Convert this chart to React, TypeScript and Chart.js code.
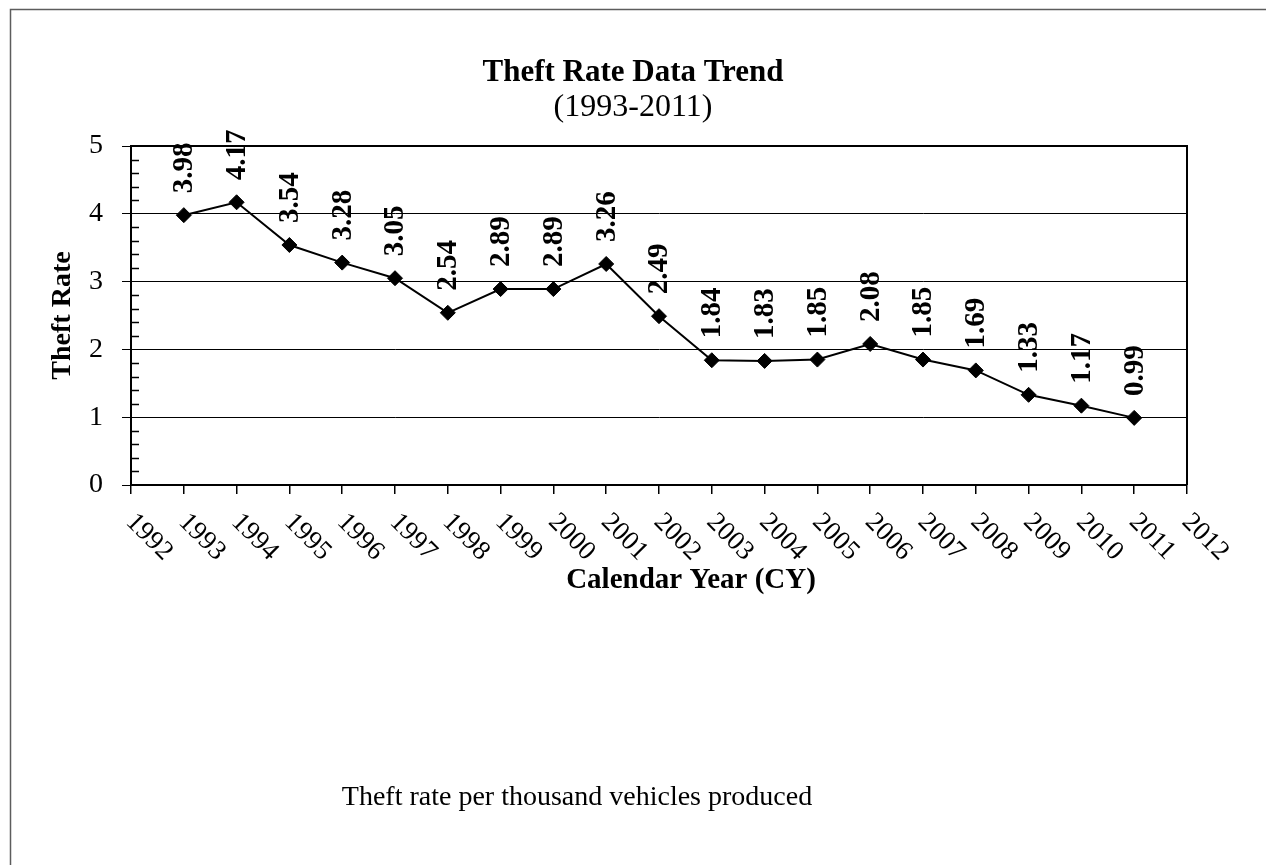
import React, { useEffect, useRef } from "react";
import { Chart, registerables } from "chart.js";

Chart.register(...registerables);

const years = [1993, 1994, 1995, 1996, 1997, 1998, 1999, 2000, 2001, 2002, 2003, 2004, 2005, 2006, 2007, 2008, 2009, 2010, 2011];
const theftRates = [3.98, 4.17, 3.54, 3.28, 3.05, 2.54, 2.89, 2.89, 3.26, 2.49, 1.84, 1.83, 1.85, 2.08, 1.85, 1.69, 1.33, 1.17, 0.99];
const xTickYears = [1992, 1993, 1994, 1995, 1996, 1997, 1998, 1999, 2000, 2001, 2002, 2003, 2004, 2005, 2006, 2007, 2008, 2009, 2010, 2011, 2012];
const yMin = 0;
const yMax = 5;
const titleText = "Theft Rate Data Trend";
const subtitleText = "(1993-2011)";
const xAxisTitle = "Calendar Year (CY)";
const yAxisTitle = "Theft Rate";
const footnote = "Theft rate per thousand vehicles produced";

const SERIF = "'Liberation Serif', 'Times New Roman', serif";

const decorPlugin = {
  id: "decor",
  beforeDraw(chart: any) {
    const ctx = chart.ctx;
    ctx.save();
    ctx.fillStyle = "#ffffff";
    ctx.fillRect(0, 0, chart.width, chart.height);
    ctx.strokeStyle = "#5c5c5c";
    ctx.lineWidth = 1.5;
    ctx.beginPath();
    ctx.moveTo(10.5, chart.height);
    ctx.lineTo(10.5, 9.5);
    ctx.lineTo(chart.width, 9.5);
    ctx.stroke();
    ctx.restore();
  },
  afterDatasetsDraw(chart: any) {
    const ctx = chart.ctx;
    const meta = chart.getDatasetMeta(0);
    ctx.save();
    ctx.fillStyle = "#000";
    ctx.font = `bold 29px ${SERIF}`;
    ctx.textAlign = "left";
    ctx.textBaseline = "middle";
    meta.data.forEach((pt: any, i: number) => {
      ctx.save();
      ctx.translate(pt.x + 1, pt.y - 22);
      ctx.rotate(-Math.PI / 2);
      ctx.fillText(theftRates[i].toFixed(2), 0, 0);
      ctx.restore();
    });
    ctx.restore();
  },
  afterDraw(chart: any) {
    const { ctx, chartArea: ca, scales } = chart;
    ctx.save();
    ctx.strokeStyle = "#000";
    ctx.lineWidth = 2;
    ctx.beginPath();
    ctx.moveTo(ca.left, ca.top);
    ctx.lineTo(ca.right, ca.top);
    ctx.lineTo(ca.right, ca.bottom);
    ctx.stroke();

    // minor ticks on the y axis (inside)
    ctx.lineWidth = 1.5;
    ctx.beginPath();
    for (let i = 1; i < (yMax - yMin) * 5; i++) {
      if (i % 5 === 0) continue;
      const py = Math.round(scales.y.getPixelForValue(yMin + i / 5)) + 0.5;
      ctx.moveTo(ca.left, py);
      ctx.lineTo(ca.left + 8, py);
    }
    ctx.stroke();

    // x tick labels, rotated 45 degrees clockwise
    ctx.fillStyle = "#000";
    ctx.font = `27px ${SERIF}`;
    ctx.textAlign = "left";
    ctx.textBaseline = "alphabetic";
    xTickYears.forEach((yr) => {
      const px = scales.x.getPixelForValue(yr);
      ctx.save();
      ctx.translate(px - 6, ca.bottom + 38);
      ctx.rotate(Math.PI / 4);
      ctx.fillText(String(yr), 0, 0);
      ctx.restore();
    });

    // x axis title
    ctx.font = `bold 29px ${SERIF}`;
    ctx.textAlign = "center";
    ctx.fillText(xAxisTitle, 691, 588);

    // footnote
    ctx.font = `28px ${SERIF}`;
    ctx.fillText(footnote, 577, 805);
    ctx.restore();
  },
};

export default function App() {
  const ref = useRef<HTMLCanvasElement | null>(null);

  useEffect(() => {
    if (!ref.current) return;
    const chart = new Chart(ref.current, {
      type: "line",
      data: {
        datasets: [
          {
            label: "Theft Rate",
            data: years.map((y, i) => ({ x: y, y: theftRates[i] })),
            borderColor: "#000",
            backgroundColor: "#000",
            borderWidth: 2,
            pointStyle: "rectRot",
            pointRadius: 7.5,
            pointBorderWidth: 1,
            pointBackgroundColor: "#000",
            pointBorderColor: "#000",
            tension: 0,
          },
        ],
      },
      options: {
        responsive: false,
        animation: false,
        layout: { padding: { left: 0, right: 0, top: 0, bottom: 0 } },
        plugins: {
          legend: { display: false },
          tooltip: { enabled: false },
          title: {
            display: true,
            text: titleText,
            color: "#000",
            font: { family: SERIF, size: 31, weight: "bold", lineHeight: 1.0 },
            padding: { top: 57.5, bottom: 0 },
          },
          subtitle: {
            display: true,
            text: subtitleText,
            color: "#000",
            font: { family: SERIF, size: 32, weight: "normal", lineHeight: 1.0 },
            padding: { top: 3, bottom: 22.5 },
          },
        },
        scales: {
          x: {
            type: "linear",
            min: 1992,
            max: 2012,
            ticks: { display: false, stepSize: 1 },
            grid: { drawOnChartArea: false, drawTicks: true, tickLength: 9, color: "#000", lineWidth: 1.5 },
            border: { display: true, color: "#000", width: 2 },
            afterFit: (scale: any) => {
              scale.height = 380;
            },
          },
          y: {
            min: yMin,
            max: yMax,
            ticks: {
              stepSize: 1,
              color: "#000",
              padding: 19,
              font: { family: SERIF, size: 28 },
            },
            grid: { color: "#000", lineWidth: 1, tickLength: 9, drawTicks: true },
            border: { display: true, color: "#000", width: 2 },
            title: {
              display: true,
              text: yAxisTitle,
              color: "#000",
              font: { family: SERIF, size: 28, weight: "bold", lineHeight: 1.2 },
              padding: { top: 46, bottom: 0 },
            },
            afterFit: (scale: any) => {
              scale.width = 131;
            },
          },
          rightPad: {
            type: "linear",
            position: "right",
            display: true,
            ticks: { display: false },
            grid: { display: false },
            border: { display: false },
            afterFit: (scale: any) => {
              scale.width = 79;
            },
          },
        },
      },
      plugins: [decorPlugin],
    });
    return () => chart.destroy();
  }, []);

  return (
    <div style={{ position: "absolute", left: 0, top: 0, width: 1266, height: 865 }}>
      <canvas ref={ref} width={1266} height={865} style={{ display: "block" }} />
    </div>
  );
}
